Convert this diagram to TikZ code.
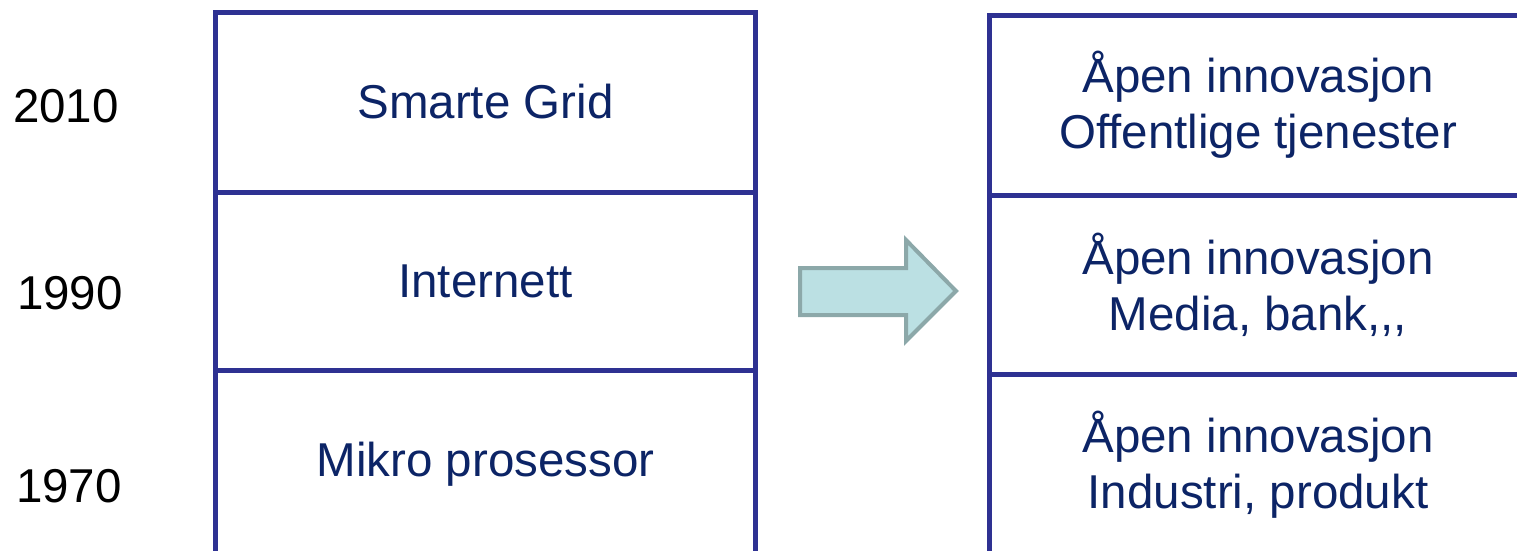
\documentclass[tikz,border=0pt]{standalone}
\usepackage{fontspec}
\setmainfont{Liberation Sans}
\definecolor{boxblue}{HTML}{2E3192}
\definecolor{txtblue}{HTML}{0C2466}
\definecolor{arrowfill}{HTML}{BBE0E3}
\definecolor{arrowline}{HTML}{8CA8A9}
\begin{document}
\begin{tikzpicture}[x=1pt,y=-1pt,
  cell/.style={draw=boxblue, line width=5pt, text=txtblue, font=\fontsize{47.5}{56}\selectfont, align=center, inner sep=0pt, rectangle},
  yearlabel/.style={font=\fontsize{47.5}{56}\selectfont, text=black, inner sep=0pt},
  bigarrow/.style={draw=arrowline, fill=arrowfill, line width=4pt, line join=miter}]
\useasboundingbox (0,0) rectangle (1517,550);
\clip (0,0) rectangle (1517,550);
% left column
\node[cell, minimum width=540pt, minimum height=180pt] (l1) at (485.5,102) {Smarte Grid};
\node[cell, minimum width=540pt, minimum height=178pt] (l2) at (485.5,281) {Internett};
\node[cell, minimum width=540pt, minimum height=188pt] (l3) at (485.5,464) {Mikro prosessor};
% right column
\node[cell, minimum width=538pt, minimum height=180pt] (r1) at (1258,105) {Åpen innovasjon\\Offentlige tjenester};
\node[cell, minimum width=538pt, minimum height=179pt] (r2) at (1258,284.5) {Åpen innovasjon\\Media, bank{,}{,}{,}};
\node[cell, minimum width=538pt, minimum height=182pt] (r3) at (1258,465) {Åpen innovasjon\\Industri, produkt};
% years
\node[yearlabel] (y1) at (66,106) {2010};
\node[yearlabel] (y2) at (70,293) {1990};
\node[yearlabel] (y3) at (69,486) {1970};
% arrow
\draw[bigarrow] (800,268) -- (906,268) -- (906,240) -- (956,291) -- (906,341) -- (906,315) -- (800,315) -- cycle;
\end{tikzpicture}
\end{document}
